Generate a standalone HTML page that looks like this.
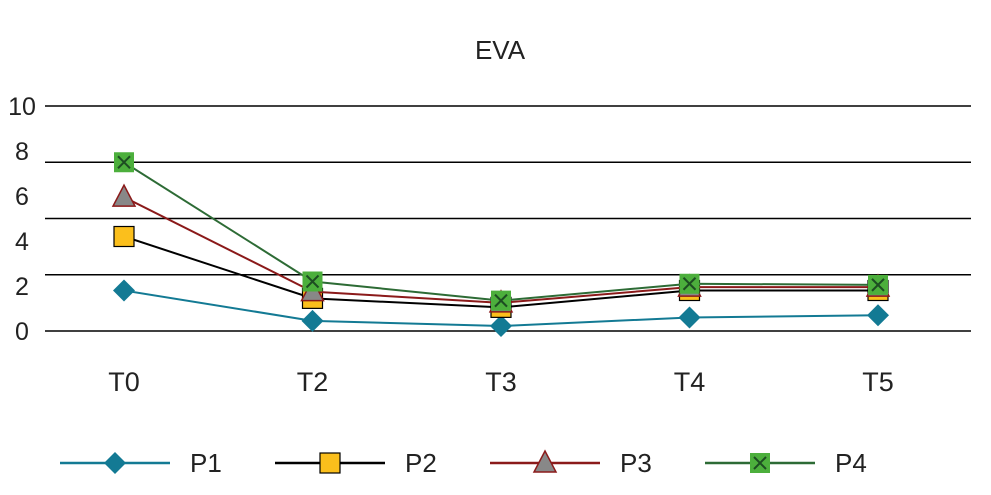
<!DOCTYPE html>
<html><head><meta charset="utf-8"><style>
body{margin:0;background:#fff;width:991px;height:495px;overflow:hidden}
svg{display:block;font-family:"Liberation Sans",sans-serif}
</style></head><body>
<svg id="chart" width="991" height="495">
<text x="500" y="59" text-anchor="middle" font-size="26" fill="#222">EVA</text>
<g id="grid"></g><g id="yt"></g><g id="xt"></g><g id="series"></g><g id="legend"></g>
</svg>
<script>
const categories=["T0","T2","T3","T4","T5"];
const gridValues=[0,2.5,5,7.5,10];
const yTickLabels=[0,2,4,6,8,10];
const seriesNames=["P1","P2","P3","P4"];
const p1=[1.8,0.45,0.22,0.6,0.7];
const p2=[4.2,1.45,1.05,1.8,1.8];
const p3=[5.95,1.75,1.25,1.95,1.95];
const p4=[7.5,2.2,1.35,2.1,2.05];
const NS="http://www.w3.org/2000/svg";
const y=v=>331-v*22.5;
const x=i=>124+i*188.5;
function mk(t,a,p){const e=document.createElementNS(NS,t);for(const k in a)e.setAttribute(k,a[k]);p.appendChild(e);return e;}
const G=document.getElementById('grid');
gridValues.forEach(v=>{const l=mk('line',{x1:45,x2:971,y1:y(v),y2:y(v),stroke:'#000','stroke-width':1.5},G);

});
const YT=document.getElementById('yt');
yTickLabels.forEach(v=>{const t=mk('text',{x:22,y:y(v)+9,'text-anchor':'middle','font-size':25,fill:'#222'},YT);t.textContent=v;

});
const XT=document.getElementById('xt');
categories.forEach((c,i)=>{const t=mk('text',{x:x(i),y:391,'text-anchor':'middle','font-size':27,fill:'#222'},XT);t.textContent=c;

});
const styles=[{c:'#137a94',f:'#137a94',m:'d'},{c:'#000',f:'#fbbf1c',m:'s'},{c:'#8b1a1a',f:'#888',m:'t'},{c:'#2d6b35',f:'#4caf3c',m:'x'}];
function marker(m,cx,cy,s,p){
 if(m==='d')return mk('polygon',{points:`${cx},${cy-11} ${cx+11},${cy} ${cx},${cy+11} ${cx-11},${cy}`,fill:s.f},p);
 if(m==='s')return mk('rect',{x:cx-10,y:cy-10,width:20,height:20,fill:s.f,stroke:'#000','stroke-width':1.2},p);
 if(m==='t')return mk('polygon',{points:`${cx},${cy-12} ${cx+11},${cy+9} ${cx-11},${cy+9}`,fill:s.f,stroke:s.c,'stroke-width':1.5},p);
 const g=mk('g',{},p);mk('rect',{x:cx-10,y:cy-10,width:20,height:20,fill:s.f},g);
 mk('path',{d:`M${cx-6},${cy-6}L${cx+6},${cy+6}M${cx+6},${cy-6}L${cx-6},${cy+6}`,stroke:'#1d4d22','stroke-width':2},g);return g;}
const S=document.getElementById('series');
[p1,p2,p3,p4].forEach((d,k)=>{const s=styles[k];
 const pl=mk('polyline',{points:d.map((v,i)=>x(i)+','+y(v)).join(' '),fill:'none',stroke:s.c,'stroke-width':2},S);
 
 
 d.forEach((v,i)=>{const m=marker(s.m,x(i),y(v),s,S);
 
 });});
const L=document.getElementById('legend');
seriesNames.forEach((n,k)=>{const s=styles[k];const x0=60+k*215;
 const g=mk('g',{},L);
 
 
 mk('line',{x1:x0,x2:x0+110,y1:463,y2:463,stroke:s.c,'stroke-width':2.5},g);
 marker(s.m,x0+55,463,s,g);
 const t=mk('text',{x:x0+130,y:472,'font-size':26,fill:'#222'},g);t.textContent=n;});
</script>
</body></html>
